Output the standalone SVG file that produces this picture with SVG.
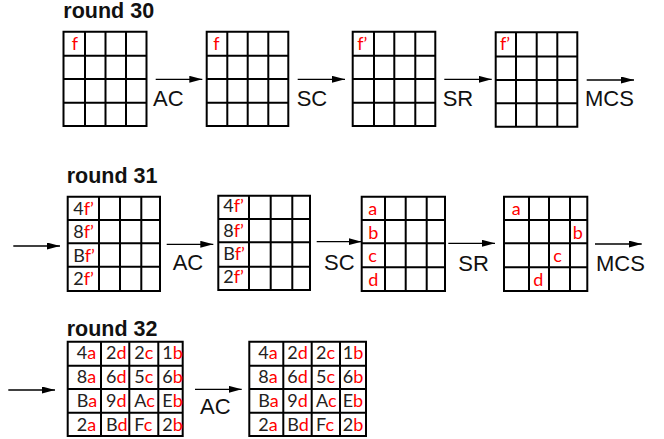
<svg xmlns="http://www.w3.org/2000/svg" width="664" height="439" viewBox="0 0 664 439">
<style>
.bg{fill:#fff}
.g{fill:none;stroke:#000;stroke-width:2}
.t{font-family:"Liberation Sans",Arial,sans-serif;font-size:22px;fill:#111}
.h{font-family:"Liberation Sans",Arial,sans-serif;font-size:21.5px;font-weight:bold;fill:#111}
.c{font-family:Lato,"Open Sans",sans-serif;font-size:18px;fill:#222}
.r{fill:#f00}
.a{stroke:#000;stroke-width:1.3;fill:none;marker-end:url(#ah)}
</style>
<defs>
<marker id="ah" markerUnits="userSpaceOnUse" markerWidth="14" markerHeight="8" refX="13" refY="3.5" orient="auto">
<path d="M0,0 L13,3.5 L0,7 z" fill="#000"/>
</marker>
</defs>
<rect class="bg" width="664" height="439"/>

<text class="h" x="63.3" y="18.3">round 30</text>
<text class="h" x="66.7" y="182.7">round 31</text>
<text class="h" x="66.7" y="335.7">round 32</text>

<g id="r30a">
<path class="g" d="M63.5,31.7H146.5V126H63.5Z M85,31.7V126 M105.5,31.7V126 M126,31.7V126 M63.5,55.7H146.5 M63.5,79H146.5 M63.5,102.7H146.5"/>
<text class="c r" x="71.7" y="50">f</text>
</g>
<g id="r30b">
<path class="g" d="M206.7,31.7H288.3V126H206.7Z M227.3,31.7V126 M247.7,31.7V126 M268.3,31.7V126 M206.7,55.7H288.3 M206.7,79H288.3 M206.7,102.7H288.3"/>
<text class="c r" x="213.3" y="50">f</text>
</g>
<g id="r30c">
<path class="g" d="M352.7,31.7H435.3V126H352.7Z M374,31.7V126 M394.3,31.7V126 M415.3,31.7V126 M352.7,55.7H435.3 M352.7,79H435.3 M352.7,102.7H435.3"/>
<text class="c r" x="357.3" y="50">f’</text>
</g>
<g id="r30d">
<path class="g" d="M495.7,32.3H577.3V126.7H495.7Z M516,32.3V126.7 M536.7,32.3V126.7 M557.3,32.3V126.7 M495.7,56.5H577.3 M495.7,80H577.3 M495.7,103.3H577.3"/>
<text class="c r" x="500" y="50">f’</text>
</g>

<g id="r31a">
<path class="g" d="M67.7,196.7H160V291H67.7Z M99,196.7V291 M120,196.7V291 M141.3,196.7V291 M67.7,220H160 M67.7,243.3H160 M67.7,266.7H160"/>
<text class="c" x="73.3" y="215">4<tspan class="r">f’</tspan></text>
<text class="c" x="73.3" y="238.3">8<tspan class="r">f’</tspan></text>
<text class="c" x="73.3" y="261.7">B<tspan class="r">f’</tspan></text>
<text class="c" x="73.3" y="285">2<tspan class="r">f’</tspan></text>
</g>
<g id="r31b">
<path class="g" d="M218.3,195.7H310V290H218.3Z M249,195.7V290 M270.7,195.7V290 M292.3,195.7V290 M218.3,219H310 M218.3,242.3H310 M218.3,266.7H310"/>
<text class="c" x="223.3" y="212.3">4<tspan class="r">f’</tspan></text>
<text class="c" x="223.3" y="236.7">8<tspan class="r">f’</tspan></text>
<text class="c" x="223.3" y="260">B<tspan class="r">f’</tspan></text>
<text class="c" x="223.3" y="283.3">2<tspan class="r">f’</tspan></text>
</g>
<g id="r31c">
<path class="g" d="M361.7,196.7H445V291H361.7Z M385,196.7V291 M405.7,196.7V291 M426.7,196.7V291 M361.7,220H445 M361.7,243.3H445 M361.7,267.3H445"/>
<text class="c r" x="368.3" y="215">a</text>
<text class="c r" x="368.3" y="239">b</text>
<text class="c r" x="368.3" y="261.7">c</text>
<text class="c r" x="368.3" y="286">d</text>
</g>
<g id="r31d">
<path class="g" d="M504,196.7H587.3V291H504Z M529,196.7V291 M549,196.7V291 M570,196.7V291 M504,220H587.3 M504,243.3H587.3 M504,267.3H587.3"/>
<text class="c r" x="511.7" y="215">a</text>
<text class="c r" x="572.7" y="239">b</text>
<text class="c r" x="553.3" y="261.7">c</text>
<text class="c r" x="533.3" y="286">d</text>
</g>

<g id="r32a">
<path class="g" d="M67.7,341.7H182.7V436H67.7Z M101,341.7V436 M129.3,341.7V436 M158.3,341.7V436 M67.7,365.7H182.7 M67.7,389H182.7 M67.7,412.7H182.7"/>
<text class="c" x="76.7" y="359.3">4<tspan class="r">a</tspan></text>
<text class="c" x="106" y="359.3">2<tspan class="r">d</tspan></text>
<text class="c" x="134.3" y="359.3">2<tspan class="r">c</tspan></text>
<text class="c" x="162.3" y="359.3">1<tspan class="r">b</tspan></text>
<text class="c" x="76.7" y="382.7">8<tspan class="r">a</tspan></text>
<text class="c" x="106" y="382.7">6<tspan class="r">d</tspan></text>
<text class="c" x="134.3" y="382.7">5<tspan class="r">c</tspan></text>
<text class="c" x="162.3" y="382.7">6<tspan class="r">b</tspan></text>
<text class="c" x="76.7" y="406.7">B<tspan class="r">a</tspan></text>
<text class="c" x="106" y="406.7">9<tspan class="r">d</tspan></text>
<text class="c" x="134.3" y="406.7">A<tspan class="r">c</tspan></text>
<text class="c" x="162.3" y="406.7">E<tspan class="r">b</tspan></text>
<text class="c" x="76.7" y="430.7">2<tspan class="r">a</tspan></text>
<text class="c" x="106" y="430.7">B<tspan class="r">d</tspan></text>
<text class="c" x="134.3" y="430.7">F<tspan class="r">c</tspan></text>
<text class="c" x="162.3" y="430.7">2<tspan class="r">b</tspan></text>
</g>
<g id="r32b">
<path class="g" d="M249.3,341.7H366V436H249.3Z M283.3,341.7V436 M311.7,341.7V436 M340,341.7V436 M249.3,365.7H366 M249.3,389H366 M249.3,412.7H366"/>
<text class="c" x="258.3" y="359.3">4<tspan class="r">a</tspan></text>
<text class="c" x="287.3" y="359.3">2<tspan class="r">d</tspan></text>
<text class="c" x="316" y="359.3">2<tspan class="r">c</tspan></text>
<text class="c" x="342.7" y="359.3">1<tspan class="r">b</tspan></text>
<text class="c" x="258.3" y="382.7">8<tspan class="r">a</tspan></text>
<text class="c" x="287.3" y="382.7">6<tspan class="r">d</tspan></text>
<text class="c" x="316" y="382.7">5<tspan class="r">c</tspan></text>
<text class="c" x="342.7" y="382.7">6<tspan class="r">b</tspan></text>
<text class="c" x="258.3" y="406.7">B<tspan class="r">a</tspan></text>
<text class="c" x="287.3" y="406.7">9<tspan class="r">d</tspan></text>
<text class="c" x="316" y="406.7">A<tspan class="r">c</tspan></text>
<text class="c" x="342.7" y="406.7">E<tspan class="r">b</tspan></text>
<text class="c" x="258.3" y="430.7">2<tspan class="r">a</tspan></text>
<text class="c" x="287.3" y="430.7">B<tspan class="r">d</tspan></text>
<text class="c" x="316" y="430.7">F<tspan class="r">c</tspan></text>
<text class="c" x="342.7" y="430.7">2<tspan class="r">b</tspan></text>
</g>

<g id="connectors">
<line class="a" x1="155.7" y1="79.3" x2="202.3" y2="79.3"/>
<line class="a" x1="297.7" y1="79.3" x2="345" y2="79.3"/>
<line class="a" x1="444.3" y1="79.3" x2="491.7" y2="79.3"/>
<line class="a" x1="586.7" y1="80" x2="634" y2="80"/>
<line class="a" x1="13.3" y1="246" x2="60" y2="246"/>
<line class="a" x1="166.7" y1="244.3" x2="213.3" y2="244.3"/>
<line class="a" x1="316.7" y1="241.7" x2="361.7" y2="241.7"/>
<line class="a" x1="448.3" y1="243.3" x2="495" y2="243.3"/>
<line class="a" x1="595" y1="244" x2="641.7" y2="244"/>
<line class="a" x1="8.3" y1="390" x2="55" y2="390"/>
<line class="a" x1="195" y1="389.3" x2="241.7" y2="389.3"/>
<text class="t" x="153" y="106">AC</text>
<text class="t" x="296.7" y="106">SC</text>
<text class="t" x="442.7" y="106">SR</text>
<text class="t" x="585" y="106">MCS</text>
<text class="t" x="172.7" y="270">AC</text>
<text class="t" x="324" y="270">SC</text>
<text class="t" x="458.3" y="271">SR</text>
<text class="t" x="596" y="271">MCS</text>
<text class="t" x="200" y="414.3">AC</text>
</g>
</svg>
